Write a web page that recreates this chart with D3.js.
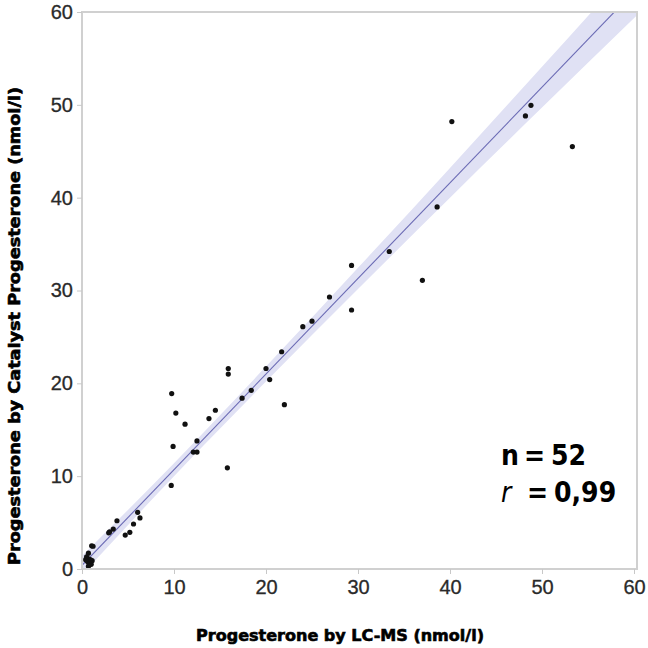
<!DOCTYPE html>
<html>
<head>
<meta charset="utf-8">
<script src="https://cdn.jsdelivr.net/npm/d3@7"></script>
<style>
  body { margin: 0; background: #fff; }
  svg { display: block; }
</style>
</head>
<body>
<svg id="chart"></svg>
<script>
// LC-MS (x) vs Catalyst (y), nmol/l
let lcms = [40.2, 48.2, 48.8, 53.3, 38.6, 33.4, 37.0, 29.3, 26.9, 29.3,
            24.0, 25.0, 21.7, 20.0, 20.4, 15.9, 15.9, 18.4, 17.4, 9.75,
            10.2, 11.2, 14.5, 13.8, 22.0, 9.9, 12.5, 12.1, 12.5, 15.8,
            9.7, 6.05, 6.3, 5.6, 5.2, 4.7, 3.8, 3.4, 3.0, 2.9,
            1.05, 1.2, 0.7, 0.5, 0.7, 0.9, 0.6, 0.8, 1.0, 0.7,
            0.4, 1.1];
let catalyst = [48.2, 48.8, 49.95, 45.5, 39.0, 34.2, 31.1, 32.7, 29.3, 27.9,
                26.1, 26.7, 23.4, 21.6, 20.4, 21.6, 21.0, 19.25, 18.4, 18.9,
                16.8, 15.6, 17.1, 16.2, 17.7, 13.2, 13.8, 12.6, 12.6, 10.9,
                9.0, 6.1, 5.5, 4.85, 3.95, 3.65, 5.2, 4.3, 4.0, 3.9,
                2.5, 2.45, 1.7, 1.3, 1.1, 1.0, 0.8, 0.6, 0.5, 0.3,
                1.0, 0.9];

// fitted line and confidence band
let fitSlope = 1.03, fitIntercept = 0.4;
let bandX = [0, 10, 20, 30, 40, 50, 62];
let bandHalf = [1.0, 0.7, 0.8, 1.15, 1.6, 2.2, 3.0];

let xTicks = [0, 10, 20, 30, 40, 50, 60];
let yTicks = [0, 10, 20, 30, 40, 50, 60];

let svgWidth = 648, svgHeight = 648;
let plotLeft = 82, plotRight = 637, plotTop = 12, plotBottom = 569;

let svg = d3.select('#chart')
            .attr('width', svgWidth)
            .attr('height', svgHeight);

let x = d3.scaleLinear().domain([0, 60]).range([plotLeft, 634]);
let y = d3.scaleLinear().domain([0, 60]).range([plotBottom, plotTop]);

svg.append('clipPath').attr('id', 'plot')
   .append('rect')
   .attr('x', plotLeft).attr('y', plotTop)
   .attr('width', plotRight - plotLeft).attr('height', plotBottom - plotTop);

let plot = svg.append('g').attr('clip-path', 'url(#plot)');

let fit = function(v) { return fitIntercept + fitSlope * v; };

let band = d3.area()
             .x(function(d, i) { return x(d); })
             .y0(function(d, i) { return y(fit(d) - bandHalf[i]); })
             .y1(function(d, i) { return y(fit(d) + bandHalf[i]); })
             .curve(d3.curveMonotoneX);

plot.append('path')
    .datum(bandX)
    .attr('d', band)
    .attr('fill', '#e0e1f4');

plot.append('line')
    .attr('x1', x(0)).attr('y1', y(fit(0)))
    .attr('x2', x(62)).attr('y2', y(fit(62)))
    .attr('stroke', '#6a6ab4')
    .attr('stroke-width', 1.1);

plot.selectAll('circle')
    .data(lcms)
    .enter()
    .append('circle')
    .attr('cx', function(d) { return x(d); })
    .attr('cy', function(d, i) { return y(catalyst[i]); })
    .attr('r', 2.6)
    .attr('fill', '#111');

// frame
svg.append('rect')
   .attr('x', plotLeft).attr('y', plotTop)
   .attr('width', plotRight - plotLeft).attr('height', plotBottom - plotTop)
   .attr('fill', 'none')
   .attr('stroke', '#d0d0d0')
   .attr('stroke-width', 2);

let xAxis = svg.append('g')
               .attr('transform', 'translate(0,' + plotBottom + ')')
               .call(d3.axisBottom(x).tickValues(xTicks).tickSize(5).tickPadding(6));
let yAxis = svg.append('g')
               .attr('transform', 'translate(' + plotLeft + ',0)')
               .call(d3.axisLeft(y).tickValues(yTicks).tickSize(5).tickPadding(4));

[xAxis, yAxis].forEach(function(g) {
    g.select('.domain').remove();
    g.selectAll('line').attr('stroke', '#c8c8c8');
    g.selectAll('text')
     .attr('fill', '#2a2a2a')
     .attr('stroke', '#2a2a2a')
     .attr('stroke-width', 0.3)
     .style('font-family', '"Liberation Sans", Arial, sans-serif')
     .style('font-size', '20px');
});

svg.append('text')
   .attr('x', 340).attr('y', 641)
   .attr('text-anchor', 'middle')
   .attr('textLength', 288)
   .attr('lengthAdjust', 'spacingAndGlyphs')
   .style('font-family', '"DejaVu Sans", sans-serif')
   .style('font-weight', 'bold')
   .style('font-size', '15px')
   .attr('fill', '#000')
   .attr('stroke', '#000')
   .attr('stroke-width', 0.6)
   .text('Progesterone by LC-MS (nmol/l)');

svg.append('text')
   .attr('transform', 'translate(20,326) rotate(-90)')
   .attr('text-anchor', 'middle')
   .attr('textLength', 478)
   .attr('lengthAdjust', 'spacingAndGlyphs')
   .style('font-family', '"DejaVu Sans", sans-serif')
   .style('font-weight', 'bold')
   .style('font-size', '15px')
   .attr('fill', '#000')
   .attr('stroke', '#000')
   .attr('stroke-width', 0.6)
   .text('Progesterone by Catalyst Progesterone (nmol/l)');

let note = svg.append('g')
              .style('font-family', '"Liberation Sans Narrow", "DejaVu Sans Condensed", sans-serif')
              .style('font-size', '28px')
              .attr('fill', '#000');

let n1 = note.append('text').attr('x', 501).attr('y', 465);
n1.append('tspan').style('font-weight', 'bold').text('n');
n1.append('tspan').attr('x', 524).style('font-weight', 'bold').text('=');
n1.append('tspan').attr('x', 551).style('font-weight', 'bold').text('52');

let n2 = note.append('text').attr('x', 501).attr('y', 502);
n2.append('tspan').style('font-style', 'italic').text('r');
n2.append('tspan').attr('x', 527).style('font-weight', 'bold').text('=');
n2.append('tspan').attr('x', 554).style('font-weight', 'bold').text('0,99');
</script>
</body>
</html>
